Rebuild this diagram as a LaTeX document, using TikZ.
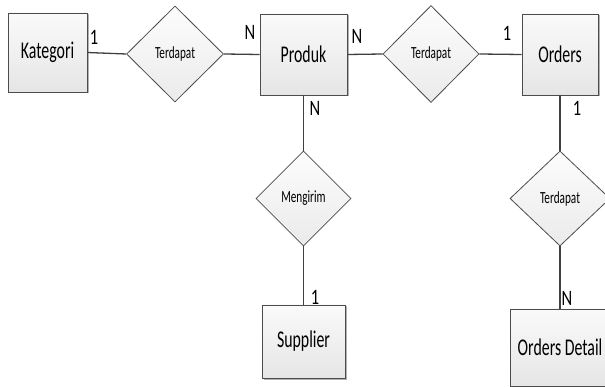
\documentclass[tikz,border=0pt]{standalone}
\usepackage{fontspec}
\setmainfont{Carlito}
\usepackage{graphicx}
\usetikzlibrary{shapes.geometric}
\newcommand{\sq}[1]{\scalebox{0.66}[1]{#1}}
\newcommand{\sqc}[1]{\scalebox{0.75}[1]{#1}}
\tikzset{
  entity/.style={draw=black!70, line width=0.8pt, inner sep=0pt,
    top color=white!98!black, bottom color=white!90!black,
    preaction={fill=black!30, transform canvas={xshift=1.5pt,yshift=-1.5pt}},
    font=\fontsize{24}{26}\selectfont},
  rel/.style={diamond, draw=black!70, line width=0.8pt, inner sep=0pt,
    top color=white!99!black, bottom color=white!92!black,
    font=\fontsize{17}{19}\selectfont},
  conn/.style={draw=black!75, line width=1.3pt},
  card/.style={inner sep=0pt, font=\fontsize{22}{24}\selectfont}
}
\begin{document}
\begin{tikzpicture}[x=1pt,y=-1pt]
\useasboundingbox (0,0) rectangle (605,387);
\clip (0,0) rectangle (605,387);
\fill[white] (0,0) rectangle (605,387);
% entities
\node[entity, minimum width=79pt, minimum height=79pt] (kat) at (47.5,52.5) {\sq{Kategori}};
\node[entity, minimum width=87pt, minimum height=81pt] (pro) at (303.5,54.5) {\sq{Produk}};
\node[entity, minimum width=76pt, minimum height=81pt] (ord) at (560,54.5) {\sq{Orders}};
\node[entity, minimum width=83pt, minimum height=73pt] (sup) at (303.5,341.5) {\sq{Supplier}};
\node[entity, minimum width=100pt, minimum height=77pt] (det) at (560,347.5) {\sq{Orders Detail}};
% relations
\node[rel, minimum width=97pt, minimum height=96pt] (r1) at (175,54) {\sq{Terdapat}};
\node[rel, minimum width=96pt, minimum height=97pt] (r2) at (431,54) {\sq{Terdapat}};
\node[rel, minimum width=95pt, minimum height=95pt] (r3) at (303.5,198.5) {\sq{Mengirim}};
\node[rel, minimum width=100pt, minimum height=95pt] (r4) at (560,198.5) {\sq{Terdapat}};
% connectors
\draw[conn] (kat.east) -- (r1.west);
\draw[conn] (r1.east) -- (pro.west);
\draw[conn] (pro.east) -- (r2.west);
\draw[conn] (r2.east) -- (ord.west);
\draw[conn] (pro.south) -- (r3.north);
\draw[conn] (r3.south) -- (sup.north);
\draw[conn] (ord.south) -- (r4.north);
\draw[conn] (r4.south) -- (det.north);
% cardinalities
\node[card] (c1) at (94,37) {\sqc{1}};
\node[card] (c2) at (250,32) {\sqc{N}};
\node[card] (c3) at (357,36) {\sqc{N}};
\node[card] (c4) at (507,33) {\sqc{1}};
\node[card] (c5) at (315,108) {\sqc{N}};
\node[card] (c6) at (577,108) {\sqc{1}};
\node[card] (c7) at (315,297) {\sqc{1}};
\node[card] (c8) at (567,298) {\sqc{N}};
\end{tikzpicture}
\end{document}
